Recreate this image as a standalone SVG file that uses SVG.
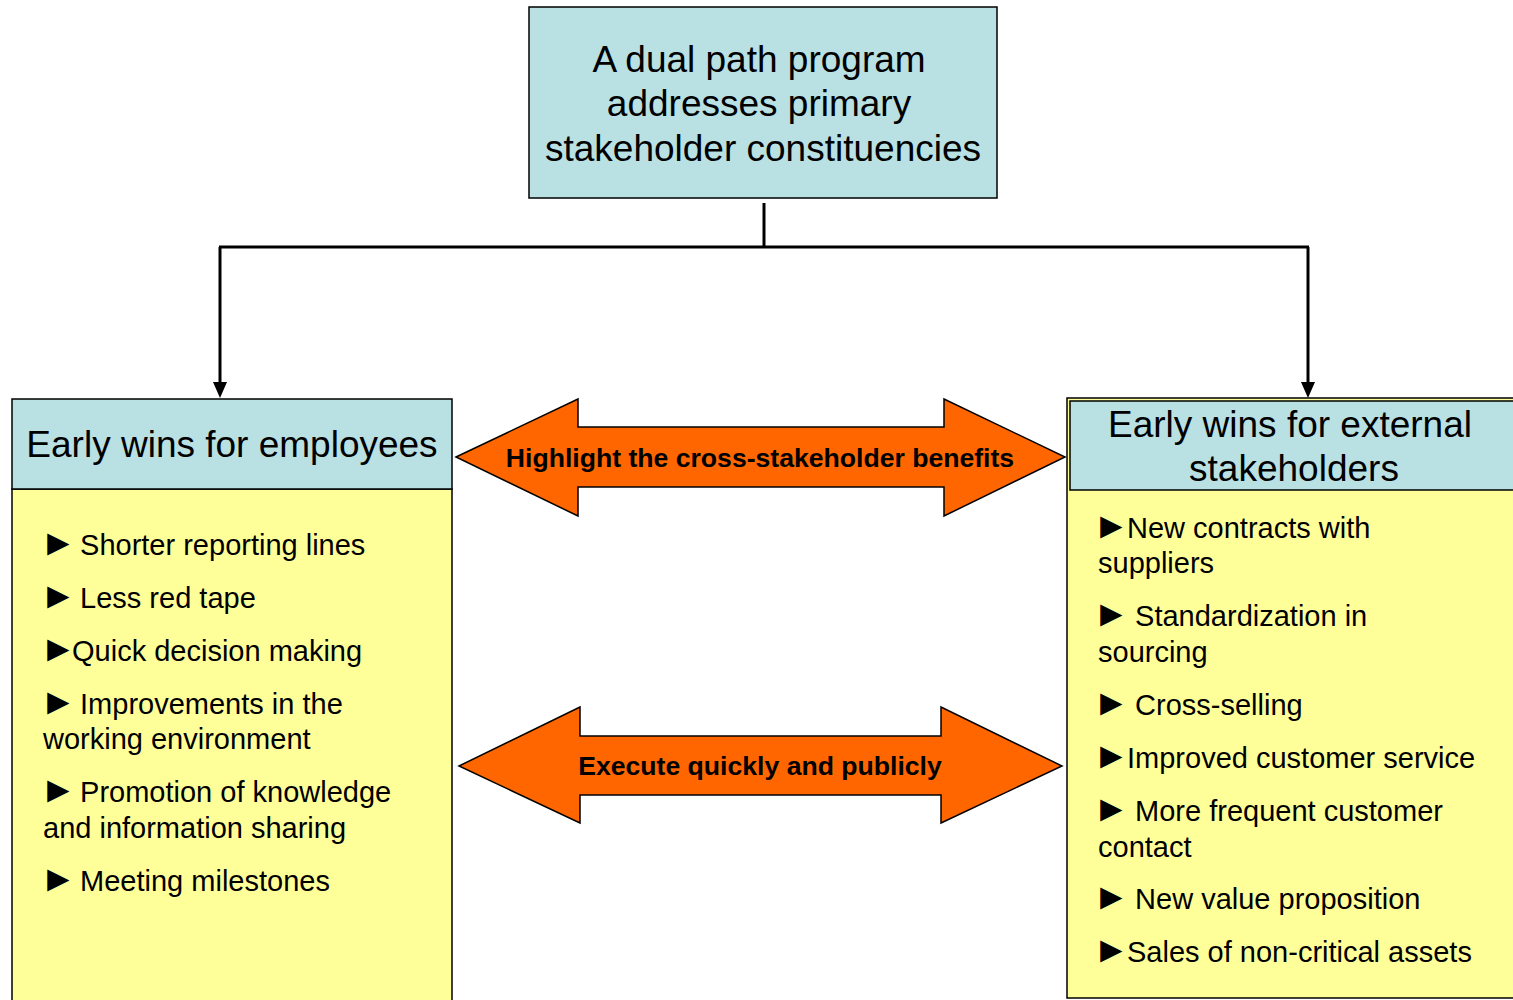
<svg xmlns="http://www.w3.org/2000/svg" width="1513" height="1000" viewBox="0 0 1513 1000">
  <style>
    .head { fill: #B9E0E3; stroke: #000; stroke-width: 1.5; }
    .body { fill: #FFFF99; stroke: #000; stroke-width: 1.5; }
    .title { font-family: "Liberation Sans", Arial, sans-serif; font-size: 37px; fill: #000; text-anchor: middle; }
    .item { font-family: "Liberation Sans", "DejaVu Sans", Arial, sans-serif; font-size: 29px; fill: #000; white-space: pre; }
    .mark { font-family: "Liberation Sans", Arial, sans-serif; font-size: 37px; }
    .bar { fill: #FF6600; stroke: #000; stroke-width: 1.5; stroke-linejoin: miter; }
    .barlabel { font-family: "Liberation Sans", Arial, sans-serif; font-weight: bold; font-size: 26.6px; fill: #000; text-anchor: middle; }
    .wire { fill: none; stroke: #000; stroke-width: 3; }
  </style>

  <rect width="1513" height="1000" fill="#fff"/>

  <!-- connectors from the programme box to both columns -->
  <g id="connectors">
    <path class="wire" d="M764,203 V247"/>
    <path class="wire" d="M219,247 H1309"/>
    <path class="wire" d="M220,247 V382"/>
    <path d="M213,382 L227,382 L220,398 Z" fill="#000"/>
    <path class="wire" d="M1308,247 V382"/>
    <path d="M1301,382 L1315,382 L1308,398 Z" fill="#000"/>
  </g>

  <!-- top node -->
  <g id="program">
    <rect class="head" x="529" y="7" width="468" height="191"/>
    <text class="title" x="759" y="72">A dual path program</text>
    <text class="title" x="759" y="116">addresses primary</text>
    <text class="title" x="763" y="161">stakeholder constituencies</text>
  </g>

  <!-- left column -->
  <g id="employees">
    <rect class="body" x="12" y="489" width="440" height="530"/>
    <rect class="head" x="12" y="399" width="440" height="90"/>
    <text class="title" x="232" y="457">Early wins for employees</text>
    <text class="item" y="555"><tspan class="mark" x="40">►</tspan><tspan x="72"> Shorter reporting lines</tspan></text>
    <text class="item" y="608"><tspan class="mark" x="40">►</tspan><tspan x="72"> Less red tape</tspan></text>
    <text class="item" y="661"><tspan class="mark" x="40">►</tspan><tspan x="72">Quick decision making</tspan></text>
    <text class="item" y="714"><tspan class="mark" x="40">►</tspan><tspan x="72"> Improvements in the</tspan></text>
    <text class="item" x="43" y="749">working environment</text>
    <text class="item" y="802"><tspan class="mark" x="40">►</tspan><tspan x="72"> Promotion of knowledge</tspan></text>
    <text class="item" x="43" y="838">and information sharing</text>
    <text class="item" y="891"><tspan class="mark" x="40">►</tspan><tspan x="72"> Meeting milestones</tspan></text>
  </g>

  <!-- right column -->
  <g id="external">
    <rect class="body" x="1067" y="398" width="460" height="600" stroke-width="2"/>
    <rect class="head" x="1070" y="401" width="460" height="89"/>
    <text class="title" x="1290" y="437">Early wins for external</text>
    <text class="title" x="1294" y="481">stakeholders</text>
    <text class="item" y="538"><tspan class="mark" x="1093">►</tspan><tspan x="1127">New contracts with</tspan></text>
    <text class="item" x="1098" y="573">suppliers</text>
    <text class="item" y="626"><tspan class="mark" x="1093">►</tspan><tspan x="1127"> Standardization in</tspan></text>
    <text class="item" x="1098" y="662">sourcing</text>
    <text class="item" y="715"><tspan class="mark" x="1093">►</tspan><tspan x="1127"> Cross-selling</tspan></text>
    <text class="item" y="768"><tspan class="mark" x="1093">►</tspan><tspan x="1127">Improved customer service</tspan></text>
    <text class="item" y="821"><tspan class="mark" x="1093">►</tspan><tspan x="1127"> More frequent customer</tspan></text>
    <text class="item" x="1098" y="857">contact</text>
    <text class="item" y="909"><tspan class="mark" x="1093">►</tspan><tspan x="1127"> New value proposition</tspan></text>
    <text class="item" y="962"><tspan class="mark" x="1093">►</tspan><tspan x="1127">Sales of non-critical assets</tspan></text>
  </g>

  <!-- double-headed banners between the columns -->
  <g id="highlight">
    <path class="bar" d="M456,457 L578,399 L578,427 L944,427 L944,399 L1065,457 L944,516 L944,487 L578,487 L578,516 Z"/>
    <text class="barlabel" x="760" y="467">Highlight the cross-stakeholder benefits</text>
  </g>
  <g id="execute">
    <path class="bar" d="M459,766 L580,707 L580,736 L941,736 L941,707 L1062,766 L941,823 L941,795 L580,795 L580,823 Z"/>
    <text class="barlabel" x="760" y="775">Execute quickly and publicly</text>
  </g>
</svg>
